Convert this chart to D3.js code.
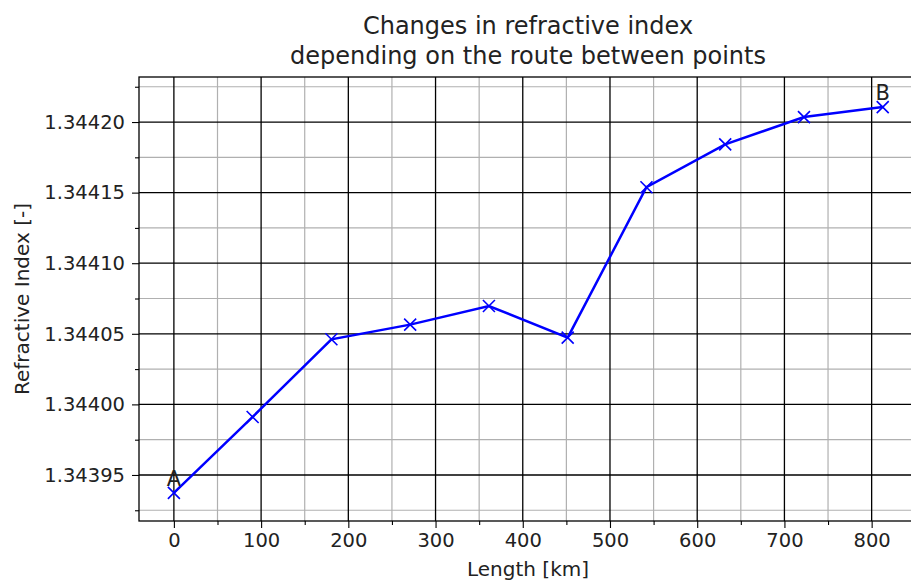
<!DOCTYPE html>
<html lang="en">
<head>
<meta charset="UTF-8"/>
<title>Refractive index along route</title>
<script src="https://d3js.org/d3.v7.min.js"></script>
<style>
  body { margin: 0; background: #fff; }
  text { font-family: "DejaVu Sans", sans-serif; fill: #222; }
</style>
</head>
<body>
<script>
// data
var lengthKm = [0, 90.3, 180.6, 270.9, 361.2, 451.5, 541.8, 632.1, 722.4, 812.7];
var refrIndex = [1.3439373, 1.3439911, 1.3440461, 1.3440565, 1.3440697,
                 1.3440473, 1.3441538, 1.3441842, 1.3442035, 1.3442106];
var pointLabels = ["A", "B"];
var xMajorTicks = [0, 100, 200, 300, 400, 500, 600, 700, 800];
var yMajorTicks = [1.34395, 1.34400, 1.34405, 1.34410, 1.34415, 1.34420];

var w = 911, h = 583;
// plot box (right edge lies past the window, like the reference)
var pL = 139, pR = 917, pT = 77, pB = 521;

var xScale = d3.scaleLinear().domain([-40, 852]).range([pL, pR]);
var yScale = d3.scaleLinear().domain([1.3439174, 1.3442319]).range([pB, pT]);

// minor steps: 50 km and 0.000025
var xMinor = d3.range(50, 900, 100);
var yMinor = d3.range(0, 7).map(function (i) { return 1.343925 + i * 0.00005; });

var svg = d3.select("body").append("svg")
    .attr("width", w)
    .attr("height", h);

svg.append("clipPath").attr("id", "plotclip")
    .append("rect")
    .attr("x", pL).attr("y", pT)
    .attr("width", pR - pL).attr("height", pB - pT);

var grid = svg.append("g").attr("clip-path", "url(#plotclip)");

// minor grid (grey)
grid.selectAll("line.xminor").data(xMinor).enter().append("line")
    .attr("x1", function (d) { return xScale(d); })
    .attr("x2", function (d) { return xScale(d); })
    .attr("y1", pT).attr("y2", pB)
    .attr("stroke", "#b0b0b0").attr("stroke-width", 1.2);
grid.selectAll("line.yminor").data(yMinor).enter().append("line")
    .attr("y1", function (d) { return yScale(d); })
    .attr("y2", function (d) { return yScale(d); })
    .attr("x1", pL).attr("x2", pR)
    .attr("stroke", "#b0b0b0").attr("stroke-width", 1.2);

// major grid (black)
grid.selectAll("line.xmajor").data(xMajorTicks).enter().append("line")
    .attr("x1", function (d) { return xScale(d); })
    .attr("x2", function (d) { return xScale(d); })
    .attr("y1", pT).attr("y2", pB)
    .attr("stroke", "#000").attr("stroke-width", 1.3);
grid.selectAll("line.ymajor").data(yMajorTicks).enter().append("line")
    .attr("y1", function (d) { return yScale(d); })
    .attr("y2", function (d) { return yScale(d); })
    .attr("x1", pL).attr("x2", pR)
    .attr("stroke", "#000").attr("stroke-width", 1.3);

// axes
svg.append("g")
    .attr("transform", "translate(0," + pB + ")")
    .call(d3.axisBottom(xScale).tickValues(xMajorTicks).tickSize(7).tickPadding(5)
        .tickFormat(d3.format("d")));
svg.append("g")
    .attr("transform", "translate(0," + pB + ")")
    .call(d3.axisBottom(xScale).tickValues(xMinor).tickSize(4).tickFormat(""));

svg.append("g")
    .attr("transform", "translate(" + pL + ",0)")
    .call(d3.axisLeft(yScale).tickValues(yMajorTicks).tickSize(7).tickPadding(7)
        .tickFormat(d3.format(".5f")));
svg.append("g")
    .attr("transform", "translate(" + pL + ",0)")
    .call(d3.axisLeft(yScale).tickValues(yMinor).tickSize(4).tickFormat(""));

svg.selectAll(".tick text").attr("font-size", "19.5px").attr("fill", "#222")
    .style("font-family", "'DejaVu Sans', sans-serif");
svg.selectAll(".tick line").attr("stroke", "#000").attr("stroke-width", 1.1);
svg.selectAll(".domain").remove();

// frame
svg.append("rect")
    .attr("x", pL).attr("y", pT)
    .attr("width", pR - pL).attr("height", pB - pT)
    .attr("fill", "none").attr("stroke", "#000").attr("stroke-width", 1.3);

// the route line
var line = d3.line()
    .x(function (d, i) { return xScale(lengthKm[i]); })
    .y(function (d) { return yScale(d); });

svg.append("path")
    .datum(refrIndex)
    .attr("d", line)
    .attr("fill", "none")
    .attr("stroke", "#0000ff")
    .attr("stroke-width", 2.5);

var m = 6;
svg.selectAll("path.marker").data(refrIndex).enter().append("path")
    .attr("d", function (d, i) {
        var x = xScale(lengthKm[i]), y = yScale(d);
        return "M" + (x - m) + "," + (y - m) + "L" + (x + m) + "," + (y + m) +
               "M" + (x - m) + "," + (y + m) + "L" + (x + m) + "," + (y - m);
    })
    .attr("stroke", "#0000ff")
    .attr("stroke-width", 1.6);

// A and B labels at the ends
var ends = [0, lengthKm.length - 1];
svg.selectAll("text.endlabel").data(ends).enter().append("text")
    .attr("x", function (d) { return xScale(lengthKm[d]); })
    .attr("y", function (d) { return yScale(refrIndex[d]) - 7; })
    .attr("text-anchor", "middle")
    .attr("font-size", "21px")
    .text(function (d, i) { return pointLabels[i]; });

// titles
svg.append("text")
    .attr("x", (pL + pR) / 2).attr("y", 34)
    .attr("text-anchor", "middle").attr("font-size", "24px")
    .text("Changes in refractive index");
svg.append("text")
    .attr("x", (pL + pR) / 2).attr("y", 64)
    .attr("text-anchor", "middle").attr("font-size", "24px")
    .text("depending on the route between points");

svg.append("text")
    .attr("x", (pL + pR) / 2).attr("y", 576)
    .attr("text-anchor", "middle").attr("font-size", "20px")
    .text("Length [km]");

svg.append("text")
    .attr("transform", "translate(29," + (pT + pB) / 2 + ") rotate(-90)")
    .attr("text-anchor", "middle").attr("font-size", "20px")
    .text("Refractive Index [-]");
</script>
</body>
</html>
